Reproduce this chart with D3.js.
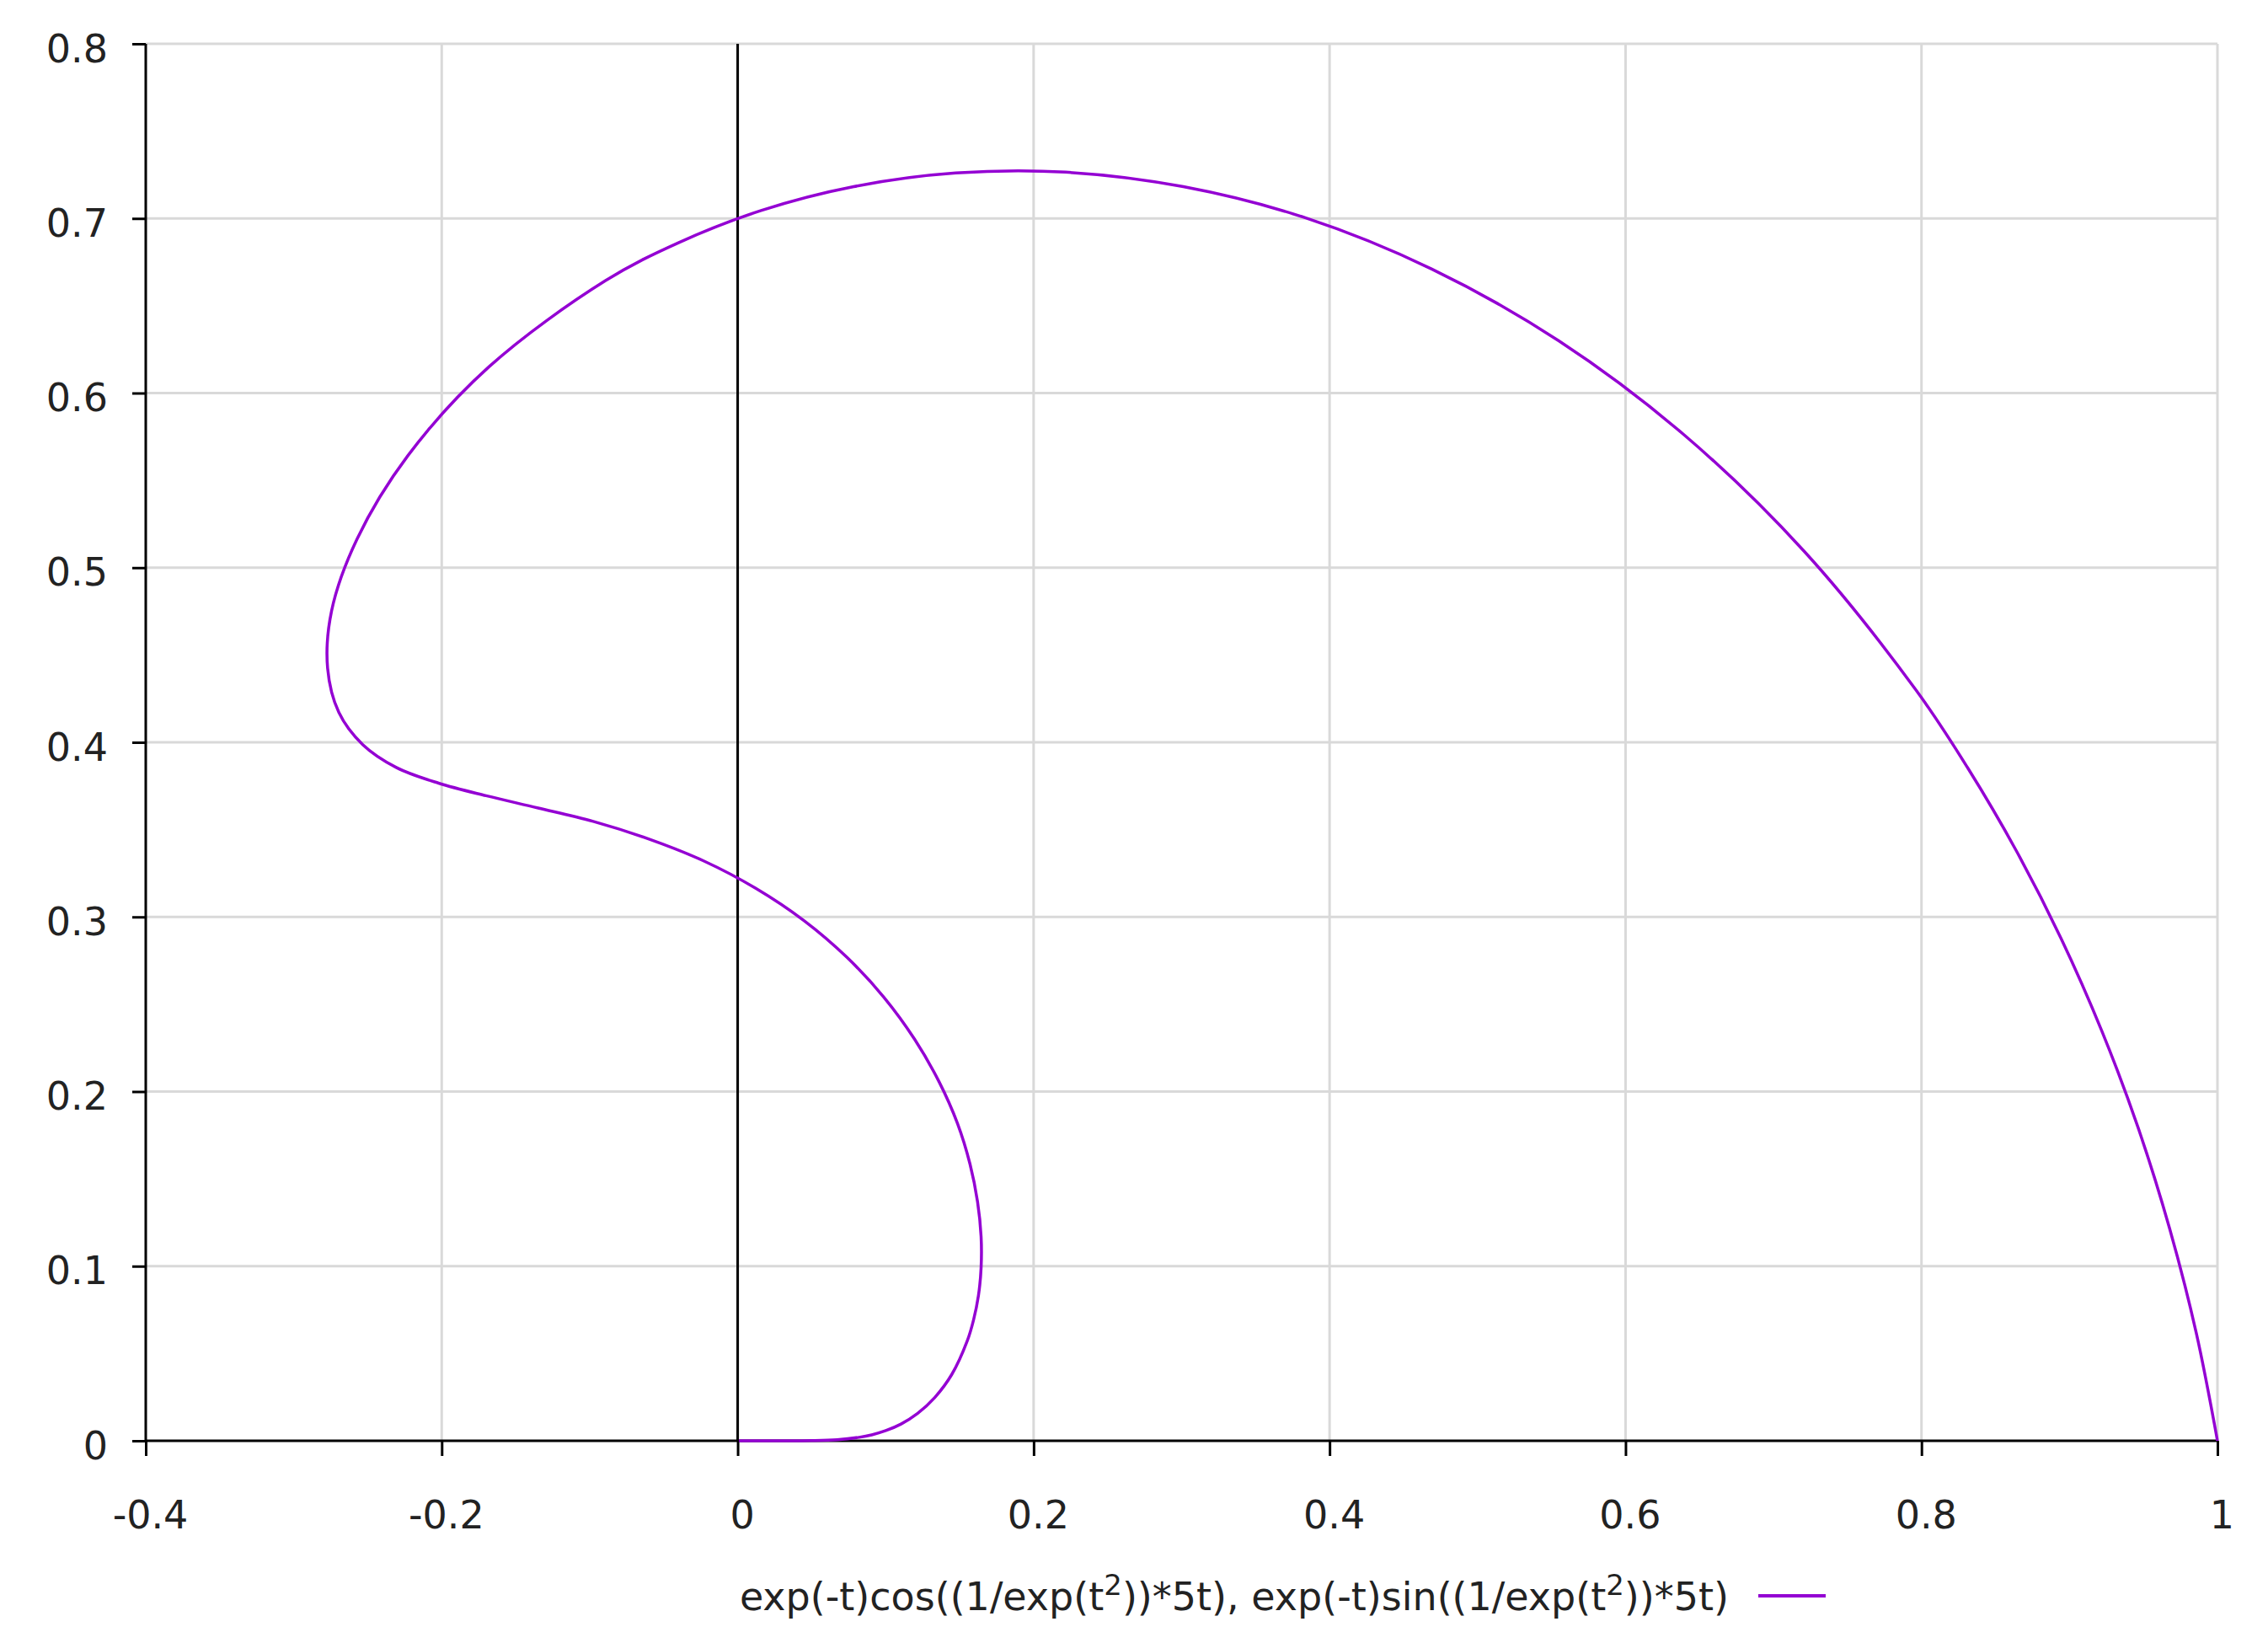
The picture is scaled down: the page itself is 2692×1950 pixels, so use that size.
<!DOCTYPE html>
<html>
<head>
<meta charset="utf-8">
<script src="https://cdn.jsdelivr.net/npm/d3@7"></script>
<style>
  body { margin: 0; background: #fff; }
  text { font-family: "DejaVu Sans", sans-serif; fill: #222; }
</style>
</head>
<body>
<div id="chart"></div>
<script>
// Curve points (x, y pairs in order along the curve)
const curveX = [
  1.0, 0.9857, 0.9677, 0.9464, 0.9218, 0.8943, 0.864, 0.8312, 0.7963, 0.7207,
  0.6395, 0.5549, 0.4691, 0.3835, 0.3012, 0.2217, 0.1474, 0.0784, 0.0158, -0.04,
  -0.0893, -0.1681, -0.2229, -0.2572, -0.2744, -0.2771, -0.2695, -0.2534, -0.2307, -0.2021,
  -0.17, -0.1348, -0.0976, -0.0603, -0.023, 0.0122, 0.0448, 0.0739, 0.0988, 0.1196,
  0.1361, 0.1486, 0.157, 0.1621, 0.1645, 0.1645, 0.1627, 0.1594, 0.1551, 0.1447,
  0.1331, 0.1215, 0.1104, 0.1001, 0.0906, 0.0821, 0.0672, 0.0498, 0.0302, 0.0183,
  0.0067, 0.0025, 0.0009,
];
const curveY = [
  0.0, 0.0617, 0.1215, 0.1793, 0.2348, 0.2877, 0.338, 0.3854, 0.4299, 0.5094,
  0.5761, 0.6299, 0.671, 0.7004, 0.7182, 0.7265, 0.726, 0.7182, 0.7045, 0.6861,
  0.6644, 0.615, 0.5641, 0.5164, 0.4753, 0.4424, 0.4171, 0.3987, 0.3856, 0.3766,
  0.3694, 0.3624, 0.3547, 0.3447, 0.3321, 0.3164, 0.2979, 0.2768, 0.254, 0.2299,
  0.2056, 0.1816, 0.1585, 0.1369, 0.117, 0.099, 0.0831, 0.0692, 0.0571, 0.038,
  0.0247, 0.0156, 0.0096, 0.0058, 0.0034, 0.002, 0.0006, 0.0001, 0.0, 0.0,
  0.0, 0.0, 0.0,
];

const xTicks = [-0.4, -0.2, 0, 0.2, 0.4, 0.6, 0.8, 1];
const yTicks = [0, 0.1, 0.2, 0.3, 0.4, 0.5, 0.6, 0.7, 0.8];
const legendLabel = ["exp(-t)cos((1/exp(t", "2", "))*5t), exp(-t)sin((1/exp(t", "2", "))*5t)"];

const lineColor = "#9400d3";
const gridColor = "#d9d9d9";

const width = 2692;
const height = 1950;
const plotLeft = 173;
const plotRight = 2632;
const plotTop = 52;
const plotBottom = 1710;

const x = d3.scaleLinear().domain([-0.4, 1]).range([plotLeft, plotRight]);
const y = d3.scaleLinear().domain([0, 0.8]).range([plotBottom, plotTop]);

const svg = d3
  .select("#chart")
  .append("svg")
  .attr("width", width)
  .attr("height", height);

svg.append("rect").attr("width", width).attr("height", height).attr("fill", "#fff");

// Grid
svg
  .append("g")
  .selectAll("line")
  .data(xTicks.slice(1))
  .enter()
  .append("line")
  .attr("x1", (d) => x(d))
  .attr("x2", (d) => x(d))
  .attr("y1", plotTop)
  .attr("y2", plotBottom)
  .attr("stroke", gridColor)
  .attr("stroke-width", 3);

svg
  .append("g")
  .selectAll("line")
  .data(yTicks.slice(1))
  .enter()
  .append("line")
  .attr("x1", plotLeft)
  .attr("x2", plotRight)
  .attr("y1", (d) => y(d))
  .attr("y2", (d) => y(d))
  .attr("stroke", gridColor)
  .attr("stroke-width", 3);

// Axes
const xAxis = svg
  .append("g")
  .attr("transform", `translate(0,${plotBottom})`)
  .call(d3.axisBottom(x).tickValues(xTicks).tickSize(18).tickPadding(0).tickFormat((d) => String(d)));

const yAxis = svg
  .append("g")
  .attr("transform", `translate(${plotLeft},0)`)
  .call(d3.axisLeft(y).tickValues(yTicks).tickSize(16).tickPadding(0).tickFormat((d) => String(d)));

[xAxis, yAxis].forEach((g) => {
  g.select(".domain").attr("stroke", "#000").attr("stroke-width", 3);
  g.selectAll(".tick line").attr("stroke", "#000").attr("stroke-width", 3);
  g.selectAll(".tick text")
    .attr("fill", "#222")
    .style("font-family", '"DejaVu Sans", sans-serif')
    .style("font-size", "46px");
});
xAxis.select(".domain").attr("d", `M${plotLeft},0H${plotRight}`);
yAxis.select(".domain").attr("d", `M0,${plotBottom}V${plotTop}`);

xAxis.selectAll(".tick text").attr("y", 104).attr("dy", 0).attr("dx", 5);
yAxis.selectAll(".tick text").attr("x", -45).attr("dy", 21);

// Zero axis
svg
  .append("line")
  .attr("x1", x(0))
  .attr("x2", x(0))
  .attr("y1", plotTop)
  .attr("y2", plotBottom)
  .attr("stroke", "#000")
  .attr("stroke-width", 3);

// Curve
const points = curveX.map((d, i) => [d, curveY[i]]);
const line = d3
  .line()
  .x((d) => x(d[0]))
  .y((d) => y(d[1]))
  .curve(d3.curveCatmullRom.alpha(0.5));

svg
  .append("path")
  .datum(points)
  .attr("d", line)
  .attr("fill", "none")
  .attr("stroke", lineColor)
  .attr("stroke-width", 3.5);

// Legend
const legendText = svg
  .append("text")
  .attr("x", 2052)
  .attr("y", 1911)
  .attr("text-anchor", "end")
  .style("font-size", "46px");

legendLabel.forEach((s, i) => {
  const sup = i % 2 === 1;
  legendText
    .append("tspan")
    .attr("dy", sup ? -18 : i === 0 ? 0 : 18)
    .style("font-size", sup ? "34px" : "46px")
    .text(s);
});

svg
  .append("line")
  .attr("x1", 2087)
  .attr("x2", 2167)
  .attr("y1", 1894)
  .attr("y2", 1894)
  .attr("stroke", lineColor)
  .attr("stroke-width", 4);
</script>
</body>
</html>
